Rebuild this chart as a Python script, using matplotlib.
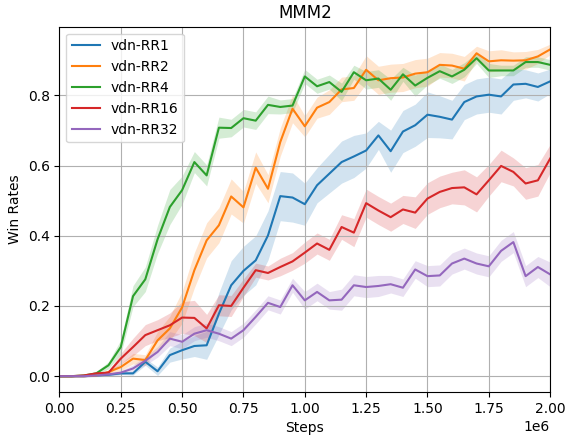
import numpy as np
import matplotlib
matplotlib.use("Agg")
import matplotlib.pyplot as plt

# evaluation steps (every 50k)
steps = np.arange(0, 2000001, 50000)

labels = ["vdn-RR1", "vdn-RR2", "vdn-RR4", "vdn-RR16", "vdn-RR32"]
colors = ["tab:blue", "tab:orange", "tab:green", "tab:red", "tab:purple"]

rr1 = [0, 0, 0, 0.002, 0.004, 0.008, 0.008, 0.041, 0.014, 0.06, 0.074,
       0.086, 0.088, 0.178, 0.259, 0.30, 0.33, 0.401, 0.513, 0.509, 0.49,
       0.544, 0.577, 0.61, 0.626, 0.643, 0.686, 0.641, 0.697, 0.715, 0.745,
       0.739, 0.731, 0.781, 0.797, 0.802, 0.797, 0.831, 0.833, 0.824, 0.84]
rr1_sd = [0.003, 0.003, 0.003, 0.003, 0.003, 0.003, 0.005, 0.01, 0.012, 0.02, 0.025,
          0.03, 0.04, 0.06, 0.07, 0.07, 0.07, 0.07, 0.07, 0.07, 0.06,
          0.05, 0.055, 0.06, 0.06, 0.05, 0.04, 0.06, 0.06, 0.06, 0.065,
          0.06, 0.055, 0.05, 0.05, 0.05, 0.05, 0.045, 0.04, 0.04, 0.035]

rr2 = [0, 0, 0, 0.002, 0.012, 0.026, 0.05, 0.046, 0.102, 0.136, 0.196,
       0.302, 0.387, 0.43, 0.512, 0.481, 0.594, 0.534, 0.667, 0.762, 0.712,
       0.765, 0.781, 0.817, 0.821, 0.873, 0.843, 0.849, 0.851, 0.862, 0.866,
       0.887, 0.885, 0.876, 0.92, 0.897, 0.9, 0.899, 0.9, 0.911, 0.931]
rr2_sd = [0.002, 0.002, 0.002, 0.002, 0.005, 0.01, 0.015, 0.015, 0.025, 0.035, 0.045,
          0.05, 0.05, 0.05, 0.05, 0.045, 0.045, 0.04, 0.04, 0.04, 0.03,
          0.03, 0.035, 0.035, 0.035, 0.04, 0.04, 0.04, 0.04, 0.04, 0.04,
          0.035, 0.035, 0.035, 0.02, 0.03, 0.03, 0.025, 0.025, 0.02, 0.015]

rr4 = [0, 0, 0.002, 0.008, 0.031, 0.083, 0.228, 0.276, 0.39, 0.482, 0.53,
       0.61, 0.572, 0.708, 0.707, 0.735, 0.728, 0.773, 0.767, 0.771, 0.854,
       0.826, 0.838, 0.81, 0.866, 0.843, 0.848, 0.816, 0.86, 0.828, 0.85,
       0.869, 0.854, 0.873, 0.906, 0.871, 0.871, 0.871, 0.895, 0.895, 0.887]
rr4_sd = [0.002, 0.002, 0.002, 0.005, 0.01, 0.02, 0.03, 0.035, 0.04, 0.05, 0.04,
          0.03, 0.03, 0.03, 0.025, 0.025, 0.025, 0.025, 0.02, 0.02, 0.02,
          0.02, 0.02, 0.025, 0.02, 0.025, 0.025, 0.03, 0.02, 0.03, 0.02,
          0.02, 0.02, 0.02, 0.015, 0.02, 0.015, 0.015, 0.015, 0.015, 0.015]

rr16 = [0, 0, 0.002, 0.008, 0.01, 0.05, 0.083, 0.117, 0.131, 0.145, 0.167,
        0.166, 0.136, 0.202, 0.20, 0.252, 0.302, 0.294, 0.311, 0.327, 0.352,
        0.378, 0.36, 0.425, 0.409, 0.493, 0.472, 0.453, 0.475, 0.466, 0.506,
        0.525, 0.536, 0.538, 0.518, 0.558, 0.599, 0.582, 0.549, 0.558, 0.62]
rr16_sd = [0.002, 0.002, 0.002, 0.002, 0.005, 0.015, 0.025, 0.03, 0.03, 0.035, 0.045,
           0.05, 0.04, 0.03, 0.03, 0.025, 0.02, 0.02, 0.025, 0.025, 0.03,
           0.03, 0.03, 0.035, 0.04, 0.04, 0.04, 0.04, 0.04, 0.045, 0.045,
           0.045, 0.045, 0.05, 0.05, 0.045, 0.045, 0.04, 0.045, 0.045, 0.04]

rr32 = [0, 0, 0, 0.002, 0.005, 0.01, 0.022, 0.044, 0.069, 0.107, 0.098,
        0.121, 0.131, 0.121, 0.107, 0.131, 0.169, 0.209, 0.197, 0.259, 0.216,
        0.24, 0.216, 0.218, 0.259, 0.254, 0.257, 0.262, 0.252, 0.304, 0.285,
        0.287, 0.321, 0.335, 0.321, 0.313, 0.357, 0.382, 0.285, 0.311, 0.29]
rr32_sd = [0.002, 0.002, 0.002, 0.002, 0.004, 0.006, 0.01, 0.012, 0.015, 0.02, 0.02,
           0.02, 0.02, 0.02, 0.02, 0.02, 0.02, 0.02, 0.02, 0.02, 0.025,
           0.025, 0.025, 0.03, 0.03, 0.03, 0.03, 0.025, 0.025, 0.025, 0.03,
           0.03, 0.03, 0.03, 0.03, 0.03, 0.03, 0.03, 0.03, 0.03, 0.035]

means = [rr1, rr2, rr4, rr16, rr32]
sds = [rr1_sd, rr2_sd, rr4_sd, rr16_sd, rr32_sd]

fig = plt.figure(figsize=(5.66, 4.36), dpi=100)
ax = fig.add_axes([0.105, 0.101, 0.867, 0.838])

for m, s, lab, c in zip(means, sds, labels, colors):
    m = np.array(m)
    s = np.array(s)
    ax.plot(steps, m, color=c, label=lab, linewidth=1.5)
    ax.fill_between(steps, m - s, m + s, color=c, alpha=0.2, linewidth=0)

ax.set_title("MMM2")
ax.set_xlabel("Steps")
ax.set_ylabel("Win Rates")
ax.set_xlim(0, 2000000)
ax.set_ylim(-0.045, 0.996)
ax.grid(True)
ax.legend(loc="upper left")

fig.savefig("out.png", dpi=100)
